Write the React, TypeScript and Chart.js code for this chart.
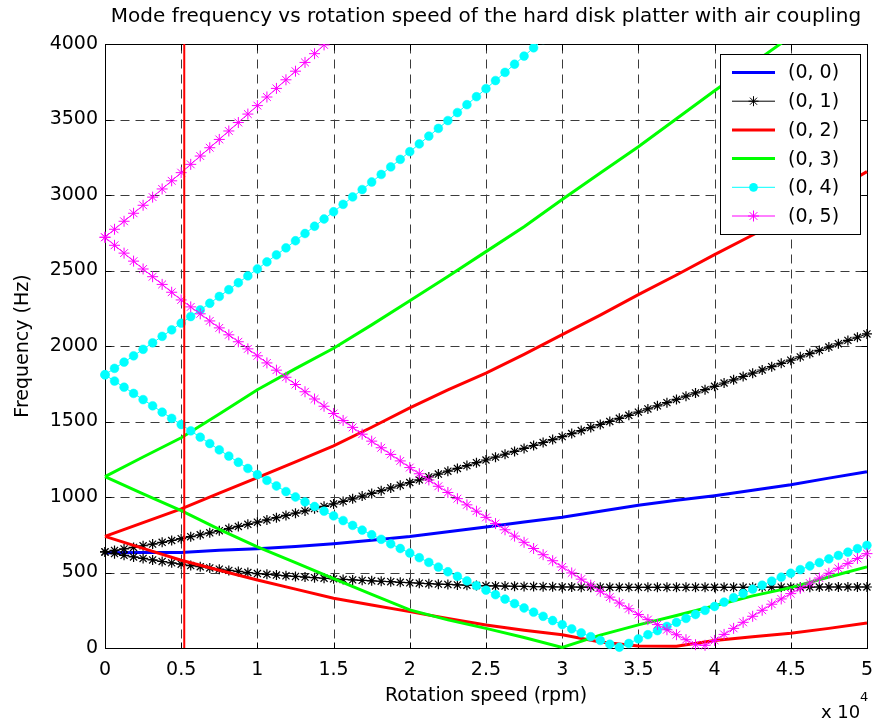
import React, { useEffect, useRef } from 'react';
import { Chart, registerables } from 'chart.js';

Chart.register(...registerables);

const FONT = '"DejaVu Sans", "Liberation Sans", Arial, sans-serif';

// ---- axes / ticks ----
const X_TICKS = [0, 5000, 10000, 15000, 20000, 25000, 30000, 35000, 40000, 45000, 50000];
const X_TICK_LABELS = ['0', '0.5', '1', '1.5', '2', '2.5', '3', '3.5', '4', '4.5', '5'];
const Y_TICKS = [0, 500, 1000, 1500, 2000, 2500, 3000, 3500, 4000];
const Y_TICK_LABELS = ['0', '500', '1000', '1500', '2000', '2500', '3000', '3500', '4000'];

const TITLE = 'Mode frequency vs rotation speed of the hard disk platter with air coupling';
const X_TITLE = 'Rotation speed (rpm)';
const Y_TITLE = 'Frequency (Hz)';
const LEGEND_LABELS = ['(0, 0)', '(0, 1)', '(0, 2)', '(0, 3)', '(0, 4)', '(0, 5)'];

// operating speed marker (rpm)
const OPERATING_RPM = 5200;

// ---- rotation speed samples (rpm) ----
const RPM_FINE = [
  0, 625, 1250, 1875, 2500, 3125, 3750, 4375, 5000, 5625, 6250, 6875, 7500, 8125, 8750, 9375,
  10000, 10625, 11250, 11875, 12500, 13125, 13750, 14375, 15000, 15625, 16250, 16875, 17500,
  18125, 18750, 19375, 20000, 20625, 21250, 21875, 22500, 23125, 23750, 24375, 25000, 25625,
  26250, 26875, 27500, 28125, 28750, 29375, 30000, 30625, 31250, 31875, 32500, 33125, 33750,
  34375, 35000, 35625, 36250, 36875, 37500, 38125, 38750, 39375, 40000, 40625, 41250, 41875,
  42500, 43125, 43750, 44375, 45000, 45625, 46250, 46875, 47500, 48125, 48750, 49375, 50000,
];
const RPM_COARSE = [
  0, 2500, 5000, 7500, 10000, 12500, 15000, 17500, 20000, 22500, 25000, 27500, 30000, 32500,
  35000, 37500, 40000, 42500, 45000, 47500, 50000,
];

// ---- mode (0,0) ----
const M00 = [
  630, 632, 632, 648, 658, 672, 691, 714, 739, 770, 802, 835, 866, 905, 945, 978, 1009, 1045,
  1081, 1125, 1167,
];

// ---- mode (0,1) forward / backward ----
const M01_UP = [
  636, 646, 656, 666, 677, 688, 700, 712, 724,
  737, 750, 763, 777, 791, 805, 819, 833,
  848, 863, 878, 893, 908, 923, 938, 954,
  971, 988, 1006, 1024, 1042, 1060, 1078, 1096,
  1114, 1133, 1152, 1171, 1189, 1208, 1227, 1245,
  1264, 1283, 1302, 1322, 1341, 1361, 1380, 1400,
  1420, 1440, 1460, 1480, 1500, 1521, 1541, 1562,
  1583, 1604, 1625, 1646, 1668, 1689, 1711, 1733,
  1755, 1776, 1798, 1820, 1841, 1863, 1885, 1906,
  1928, 1950, 1971, 1993, 2015, 2037, 2058, 2080,
];
const M01_DOWN = [
  636, 625, 614, 603, 593, 583, 573, 564, 555,
  546, 538, 530, 522, 514, 507, 500, 493,
  488, 483, 478, 474, 470, 466, 462, 458,
  454, 451, 448, 445, 442, 439, 435, 432,
  429, 426, 423, 421, 418, 416, 414, 412,
  411, 410, 409, 408, 407, 406, 405, 404,
  404, 403, 403, 403, 402, 402, 402, 402,
  402, 402, 402, 402, 402, 402, 402, 402,
  402, 402, 402, 403, 403, 403, 403, 403,
  403, 403, 404, 404, 404, 404, 404, 404,
];

// ---- mode (0,2) ----
const M02_UP = [
  739, 830, 921, 1025, 1129, 1232, 1338, 1462, 1590, 1710, 1820, 1945, 2075, 2205, 2340, 2470,
  2605, 2735, 2868, 3010, 3155,
];
const M02_DOWN = [
  739, 660, 581, 515, 450, 390, 329, 285, 241, 195, 152, 118, 88, 40, 14, 12, 50, 75, 97, 130,
  165,
];

// ---- mode (0,3) ----
const M03_UP = [
  1135, 1265, 1392, 1550, 1710, 1850, 1985, 2140, 2300, 2460, 2625, 2790, 2970, 3145, 3320,
  3505, 3690, 3870, 4050,
];
const M03_DOWN = [
  1135, 1020, 910, 785, 669, 565, 460, 355, 252, 186, 130, 70, 3, 85, 153, 215, 280, 345, 400,
  470, 537,
];

// ---- mode (0,4) ----
const M04_UP = [
  1810, 1852, 1893, 1935, 1978, 2021, 2064, 2107, 2151, 2195, 2239, 2283, 2328, 2373, 2419, 2464,
  2510, 2557, 2603, 2650, 2697, 2745, 2793, 2841, 2889, 2938, 2987, 3036, 3086, 3136, 3186, 3236,
  3287, 3338, 3390, 3441, 3493, 3546, 3598, 3651, 3704, 3758, 3812, 3866, 3920, 3975, 4030,
];
const M04_DOWN = [
  1809, 1768, 1727, 1686, 1645, 1604, 1562, 1521, 1480,
  1438, 1396, 1354, 1312, 1271, 1230, 1189, 1148,
  1110, 1073, 1036, 1000, 968, 937, 906, 875,
  844, 812, 781, 750, 720, 690, 659, 629,
  598, 567, 536, 505, 474, 444, 413, 383,
  353, 324, 294, 265, 237, 210, 182, 155,
  127, 100, 75, 50, 25, 5, 30, 60,
  88, 115, 143, 170, 196, 222, 249, 275,
  304, 333, 361, 390, 416, 443, 469, 495,
  519, 543, 566, 590, 613, 635, 658, 680,
];

// ---- mode (0,5) ----
const M05_UP = [
  2720, 2773, 2826, 2879, 2932, 2986, 3040, 3094, 3148, 3203, 3258, 3313, 3368, 3424, 3480, 3536,
  3592, 3649, 3706, 3763, 3820, 3878, 3936, 3994, 4052,
];
const M05_DOWN = [
  2720, 2667, 2615, 2562, 2510, 2459, 2408, 2356, 2305,
  2259, 2213, 2166, 2120, 2074, 2028, 1981, 1935,
  1888, 1840, 1793, 1745, 1697, 1649, 1601, 1553,
  1507, 1461, 1416, 1370, 1326, 1282, 1239, 1195,
  1154, 1113, 1071, 1030, 989, 948, 906, 865,
  824, 783, 741, 700, 659, 618, 578, 537,
  497, 456, 416, 375, 337, 298, 260, 222,
  188, 155, 121, 88, 55, 22, 18, 50,
  90, 130, 170, 210, 250, 290, 325, 360,
  395, 430, 463, 495, 528, 560, 593, 625,
];

const COLORS = ['#0000ff', '#000000', '#ff0000', '#00ff00', '#00ffff', '#ff00ff'];

const pts = (xs: number[], ys: number[]) => ys.map((y, i) => ({ x: xs[i], y }));

const CLIP = { left: 10, right: 10, top: 0, bottom: 10 };

function starPath(ctx: CanvasRenderingContext2D, x: number, y: number, r: number) {
  const d = r * Math.SQRT1_2;
  ctx.beginPath();
  ctx.moveTo(x - r, y);
  ctx.lineTo(x + r, y);
  ctx.moveTo(x, y - r);
  ctx.lineTo(x, y + r);
  ctx.moveTo(x - d, y - d);
  ctx.lineTo(x + d, y + d);
  ctx.moveTo(x - d, y + d);
  ctx.lineTo(x + d, y - d);
  ctx.stroke();
}

export default function App() {
  const ref = useRef<HTMLCanvasElement>(null);

  useEffect(() => {
    const canvas = ref.current;
    if (!canvas) return;

    const thick = (data: any[], color: string) => ({
      data,
      borderColor: color,
      backgroundColor: color,
      borderWidth: 3,
      pointRadius: 0,
      tension: 0,
      clip: CLIP,
    });
    const starLine = (data: any[], color: string, r: number, w: number) => ({
      data,
      borderColor: color,
      backgroundColor: color,
      borderWidth: 1,
      pointStyle: 'star',
      pointRadius: r,
      pointBorderColor: color,
      pointBorderWidth: w,
      pointBackgroundColor: color,
      tension: 0,
      clip: CLIP,
    });
    const dotLine = (data: any[], color: string) => ({
      data,
      borderColor: color,
      backgroundColor: color,
      borderWidth: 1,
      pointStyle: 'circle',
      pointRadius: 4.4,
      pointBorderColor: color,
      pointBorderWidth: 0.5,
      pointBackgroundColor: color,
      tension: 0,
      clip: CLIP,
    });

    // first dataset is drawn on top in Chart.js
    const datasets: any[] = [
      {
        data: [
          { x: OPERATING_RPM, y: 0 },
          { x: OPERATING_RPM, y: 4000 },
        ],
        borderColor: '#ff0000',
        borderWidth: 2,
        pointRadius: 0,
      },
      starLine(pts(RPM_FINE, M05_DOWN), COLORS[5], 5.5, 1),
      starLine(pts(RPM_FINE, M05_UP), COLORS[5], 5.5, 1),
      dotLine(pts(RPM_FINE, M04_DOWN), COLORS[4]),
      dotLine(pts(RPM_FINE, M04_UP), COLORS[4]),
      thick(pts(RPM_COARSE, M03_DOWN), COLORS[3]),
      thick(pts(RPM_COARSE, M03_UP), COLORS[3]),
      thick(pts(RPM_COARSE, M02_DOWN), COLORS[2]),
      thick(pts(RPM_COARSE, M02_UP), COLORS[2]),
      starLine(pts(RPM_FINE, M01_DOWN), COLORS[1], 5, 1.2),
      starLine(pts(RPM_FINE, M01_UP), COLORS[1], 5, 1.2),
      thick(pts(RPM_COARSE, M00), COLORS[0]),
    ];

    const decor = {
      id: 'matlabDecor',
      beforeDatasetsDraw(chart: any) {
        const { ctx, chartArea: a, scales } = chart;
        const L = Math.round(a.left) + 0.5;
        const R = Math.round(a.right) + 0.5;
        const T = Math.round(a.top) + 0.5;
        const B = Math.round(a.bottom) + 0.5;
        ctx.save();
        ctx.fillStyle = '#ffffff';
        ctx.fillRect(a.left, a.top, a.right - a.left, a.bottom - a.top);
        // dashed grid
        ctx.strokeStyle = '#3c3c3c';
        ctx.lineWidth = 1;
        ctx.setLineDash([9, 6]);
        X_TICKS.forEach((v) => {
          const px = Math.round(scales.x.getPixelForValue(v)) + 0.5;
          if (Math.abs(px - L) < 1 || Math.abs(px - R) < 1) return;
          ctx.beginPath();
          ctx.moveTo(px, T);
          ctx.lineTo(px, B);
          ctx.stroke();
        });
        Y_TICKS.forEach((v) => {
          const py = Math.round(scales.y.getPixelForValue(v)) + 0.5;
          if (Math.abs(py - T) < 1 || Math.abs(py - B) < 1) return;
          ctx.beginPath();
          ctx.moveTo(L, py);
          ctx.lineTo(R, py);
          ctx.stroke();
        });
        ctx.setLineDash([]);
        // inward tick marks on all sides
        ctx.strokeStyle = '#000000';
        const tk = 6;
        X_TICKS.forEach((v) => {
          const px = Math.round(scales.x.getPixelForValue(v)) + 0.5;
          ctx.beginPath();
          ctx.moveTo(px, B);
          ctx.lineTo(px, B - tk);
          ctx.moveTo(px, T);
          ctx.lineTo(px, T + tk);
          ctx.stroke();
        });
        Y_TICKS.forEach((v) => {
          const py = Math.round(scales.y.getPixelForValue(v)) + 0.5;
          ctx.beginPath();
          ctx.moveTo(L, py);
          ctx.lineTo(L + tk, py);
          ctx.moveTo(R, py);
          ctx.lineTo(R - tk, py);
          ctx.stroke();
        });
        // box
        ctx.strokeRect(L, T, R - L, B - T);
        ctx.restore();
      },
      afterDraw(chart: any) {
        const { ctx, chartArea: a } = chart;
        ctx.save();
        ctx.fillStyle = '#000000';
        // title
        ctx.font = `20px ${FONT}`;
        ctx.textAlign = 'center';
        ctx.textBaseline = 'middle';
        ctx.fillText(TITLE, (a.left + a.right) / 2, 17);
        // x axis title
        ctx.font = `19px ${FONT}`;
        ctx.fillText(X_TITLE, (a.left + a.right) / 2, 696);
        // y axis title
        ctx.save();
        ctx.translate(23, (a.top + a.bottom) / 2);
        ctx.rotate(-Math.PI / 2);
        ctx.fillText(Y_TITLE, 0, 0);
        ctx.restore();
        // x 10^4 multiplier
        ctx.textAlign = 'left';
        ctx.textBaseline = 'alphabetic';
        ctx.font = `18px ${FONT}`;
        ctx.fillText('x 10', 821, 718);
        ctx.font = `13px ${FONT}`;
        ctx.fillText('4', 860, 701);

        // legend
        const bx = 720.5;
        const by = 54.5;
        const bw = 140;
        const bh = 180;
        ctx.fillStyle = '#ffffff';
        ctx.fillRect(bx, by, bw, bh);
        ctx.strokeStyle = '#000000';
        ctx.lineWidth = 1;
        ctx.strokeRect(bx, by, bw, bh);
        const rowY0 = 72.5;
        const rowDy = 28.7;
        const x0 = 732;
        const x1 = 775;
        const xm = (x0 + x1) / 2;
        LEGEND_LABELS.forEach((lab, i) => {
          const y = rowY0 + i * rowDy;
          const c = COLORS[i];
          ctx.strokeStyle = c;
          ctx.fillStyle = c;
          const isThick = i === 0 || i === 2 || i === 3;
          ctx.lineWidth = isThick ? 3 : 1;
          ctx.beginPath();
          ctx.moveTo(x0, y);
          ctx.lineTo(x1, y);
          ctx.stroke();
          ctx.lineWidth = 1;
          if (i === 1) starPath(ctx, xm, y, 5);
          if (i === 5) starPath(ctx, xm, y, 5.5);
          if (i === 4) {
            ctx.beginPath();
            ctx.arc(xm, y, 4.4, 0, Math.PI * 2);
            ctx.fill();
          }
          ctx.fillStyle = '#000000';
          ctx.font = `19px ${FONT}`;
          ctx.textAlign = 'left';
          ctx.textBaseline = 'middle';
          ctx.fillText(lab, 788, y + 1);
        });
        ctx.restore();
      },
    };

    const tickFont = { family: FONT, size: 19 };

    const chart = new Chart(canvas, {
      type: 'line',
      data: { datasets },
      options: {
        responsive: false,
        animation: false,
        devicePixelRatio: 1,
        events: [],
        layout: { padding: { top: 44, right: 10, left: 0, bottom: 0 } },
        plugins: {
          legend: { display: false },
          title: { display: false },
          tooltip: { enabled: false },
        },
        scales: {
          x: {
            type: 'linear',
            min: 0,
            max: 50000,
            grid: { display: false, drawTicks: false },
            border: { display: false },
            afterBuildTicks: (s: any) => {
              s.ticks = X_TICKS.map((v) => ({ value: v }));
            },
            afterFit: (s: any) => {
              s.height = 76;
            },
            ticks: {
              autoSkip: false,
              maxRotation: 0,
              padding: 11,
              color: '#000000',
              font: tickFont,
              callback: (v: any) => X_TICK_LABELS[X_TICKS.indexOf(Number(v))],
            },
          },
          y: {
            type: 'linear',
            min: 0,
            max: 4000,
            grid: { display: false, drawTicks: false },
            border: { display: false },
            afterBuildTicks: (s: any) => {
              s.ticks = Y_TICKS.map((v) => ({ value: v }));
            },
            afterFit: (s: any) => {
              s.width = 105;
            },
            ticks: {
              autoSkip: false,
              padding: 7,
              color: '#000000',
              font: tickFont,
              callback: (v: any) => Y_TICK_LABELS[Y_TICKS.indexOf(Number(v))],
            },
          },
        },
      } as any,
      plugins: [decor],
    });

    return () => chart.destroy();
  }, []);

  return (
    <div
      style={{
        position: 'absolute',
        left: 0,
        top: 0,
        width: 884,
        height: 724,
        background: '#ffffff',
      }}
    >
      <canvas ref={ref} width={884} height={724} style={{ display: 'block', width: 884, height: 724 }} />
    </div>
  );
}
